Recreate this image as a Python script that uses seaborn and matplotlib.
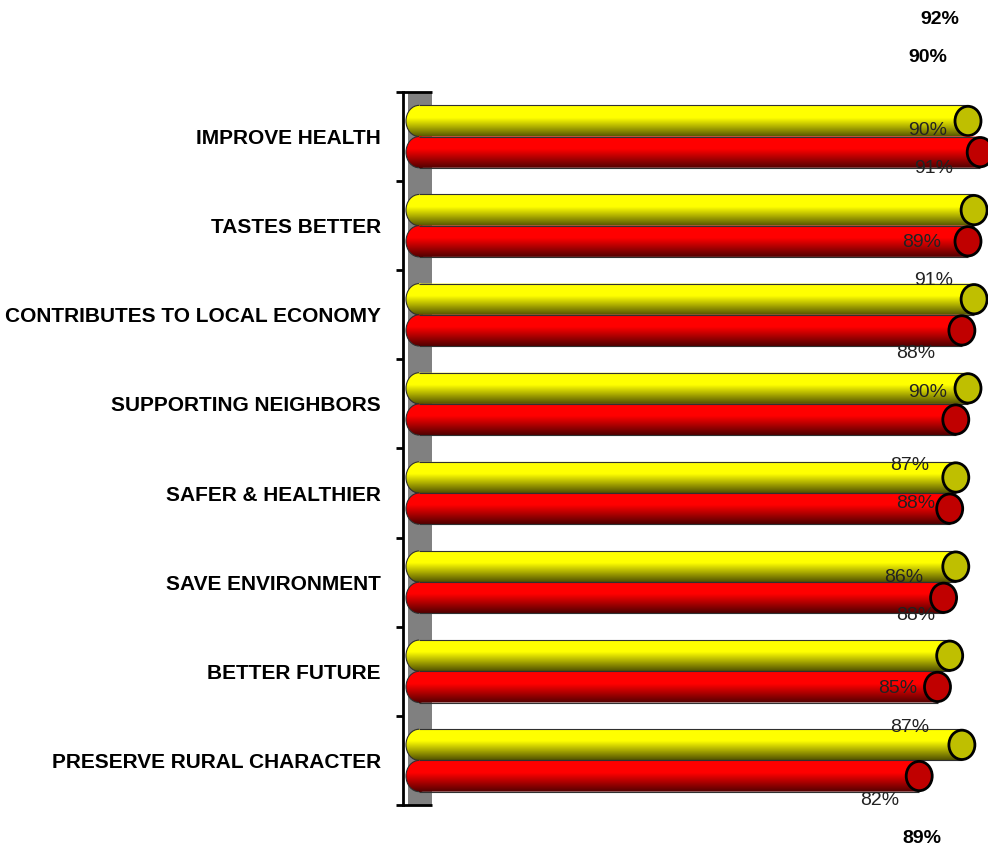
import numpy as np
import pandas as pd
import matplotlib
matplotlib.use("Agg")
import matplotlib.pyplot as plt
import seaborn as sns
from matplotlib.patches import Ellipse, Rectangle, PathPatch, Arc
from matplotlib.path import Path
from matplotlib.colors import to_rgb, to_hex
from matplotlib import font_manager

# ---------------- data ----------------
categories = ["IMPROVE HEALTH", "TASTES BETTER", "CONTRIBUTES TO LOCAL ECONOMY",
              "SUPPORTING NEIGHBORS", "SAFER & HEALTHIER", "SAVE ENVIRONMENT",
              "BETTER FUTURE", "PRESERVE RURAL CHARACTER"]
series_names = ["Series 1", "Series 2"]
yellow_values = [90, 91, 91, 90, 88, 88, 87, 89]
red_values = [92, 90, 89, 88, 87, 86, 85, 82]

df = pd.DataFrame({
    "category": categories * 2,
    "value": yellow_values + red_values,
    "series": [series_names[0]] * len(categories) + [series_names[1]] * len(categories),
})

# ---------------- styling ----------------
sns.set_theme(style="white")
installed = {f.name for f in font_manager.fontManager.ttflist}
narrow = "Liberation Sans Narrow" in installed
LABEL_FAMILY = ["Liberation Sans Narrow", "Liberation Sans", "DejaVu Sans"] if narrow else ["Liberation Sans", "DejaVu Sans"]
LABEL_SIZE = 17 if narrow else 15
plt.rcParams["font.family"] = ["Liberation Sans", "DejaVu Sans"]

YELLOW = "#FFFF00"
RED = "#FF0000"
CAP = {YELLOW: "#BFBF00", RED: "#C00000"}

W, H = 988, 846
fig = plt.figure(figsize=(W / 100, H / 100), dpi=100)
fig.patch.set_facecolor("white")
ax_left, ax_right, ax_top, ax_bot = 403, 988, 92, 805
ax = fig.add_axes([ax_left / W, (H - ax_bot) / H, (ax_right - ax_left) / W, (ax_bot - ax_top) / H])
ax.set_facecolor("white")

PX_PER_UNIT = 6.1
X0_PX = 419
xmin = (ax_left - X0_PX) / PX_PER_UNIT
xmax = (ax_right - X0_PX) / PX_PER_UNIT

sns.barplot(data=df, y="category", x="value", hue="series", order=categories,
            hue_order=series_names, orient="h", width=0.7,
            palette=[YELLOW, RED], saturation=1, legend=False, ax=ax)
bars = [p for p in ax.patches if p.get_width() > 0]

ax.set_xlim(xmin, xmax)
ax.set_ylim(len(categories) - 0.5, -0.5)

# back wall
ax.axvspan((408 - X0_PX) / PX_PER_UNIT, (432 - X0_PX) / PX_PER_UNIT, color="#808080", zorder=0.5, lw=0)
ax.hlines([-0.5, len(categories) - 0.5], xmin, (432 - X0_PX) / PX_PER_UNIT, color="black", lw=2, zorder=1, clip_on=False)

capw = 26 / PX_PER_UNIT

def gradient(base):
    r, g, b = to_rgb(base)
    t = np.linspace(0, 1, 200)
    f = np.where(t < 0.40, 1.0, 1.0 - (t - 0.40) / 0.60 * 0.68)
    img = np.zeros((200, 1, 3))
    img[:, 0, 0] = r * f
    img[:, 0, 1] = g * f
    img[:, 0, 2] = b * f
    return np.clip(img, 0, 1)

for p in bars:
    fc = to_hex(p.get_facecolor())
    base = YELLOW if fc.lower() == YELLOW.lower() else RED
    x0, w, y0, h = p.get_x(), p.get_width(), p.get_y(), p.get_height()
    p.set_visible(False)
    z = 2 if base == YELLOW else 3
    rect = Rectangle((x0, y0), w, h)
    ell = Ellipse((x0, y0 + h / 2), capw, h)
    path = Path.make_compound_path(rect.get_path().transformed(rect.get_patch_transform()),
                                   ell.get_path().transformed(ell.get_patch_transform()))
    clip = PathPatch(path, transform=ax.transData, facecolor="none", edgecolor="none")
    ax.add_patch(clip)
    im = ax.imshow(gradient(base), extent=(x0 - capw / 2, x0 + w, y0 + h, y0),
                   aspect="auto", interpolation="bilinear", zorder=z)
    im.set_clip_path(clip)
    ax.hlines([y0, y0 + h], x0, x0 + w, color="#303030", lw=0.8, zorder=z)
    ax.add_patch(Arc((x0, y0 + h / 2), capw, h, theta1=90, theta2=270,
                     edgecolor="#303030", lw=0.8, zorder=z))
    ax.add_patch(Ellipse((x0 + w, y0 + h / 2), capw, h * 0.94, facecolor=CAP[base],
                         edgecolor="black", lw=2, zorder=z + 0.5, clip_on=False))

ax.set_xlim(xmin, xmax)
ax.set_ylim(len(categories) - 0.5, -0.5)

# value labels (placed as in the reference, red above yellow)
for k in range(len(categories)):
    for vals, dy in ((red_values, 0.0), (yellow_values, 0.43)):
        v = vals[k]
        ylab = -1.319 + 1.2525 * k + dy
        outside = ylab < -0.5 or ylab > len(categories) - 0.5
        ax.annotate(f"{v}%", xy=(v, ylab), xytext=(-40, 0), textcoords="offset pixels",
                    ha="center", va="center", fontsize=14,
                    fontweight="bold" if outside else "normal",
                    family=LABEL_FAMILY if outside else ["Liberation Sans", "DejaVu Sans"],
                    color="black" if outside else "#222222",
                    annotation_clip=False, zorder=6)

# axes
for s in ("top", "right", "bottom"):
    ax.spines[s].set_visible(False)
ax.spines["left"].set_color("black")
ax.spines["left"].set_linewidth(2)
ax.set_xticks([])
ax.set_xlabel("")
ax.set_ylabel("")
ax.set_yticks(range(len(categories)))
ax.set_yticklabels(categories, fontsize=LABEL_SIZE, fontweight="bold", family=LABEL_FAMILY, color="black")
ax.set_yticks(np.arange(-0.5, len(categories), 1), minor=True)
ax.tick_params(axis="y", which="major", length=0, pad=16)
ax.tick_params(axis="y", which="minor", length=5, width=2, color="black", left=True)

fig.savefig("out.png", dpi=100, facecolor="white")
